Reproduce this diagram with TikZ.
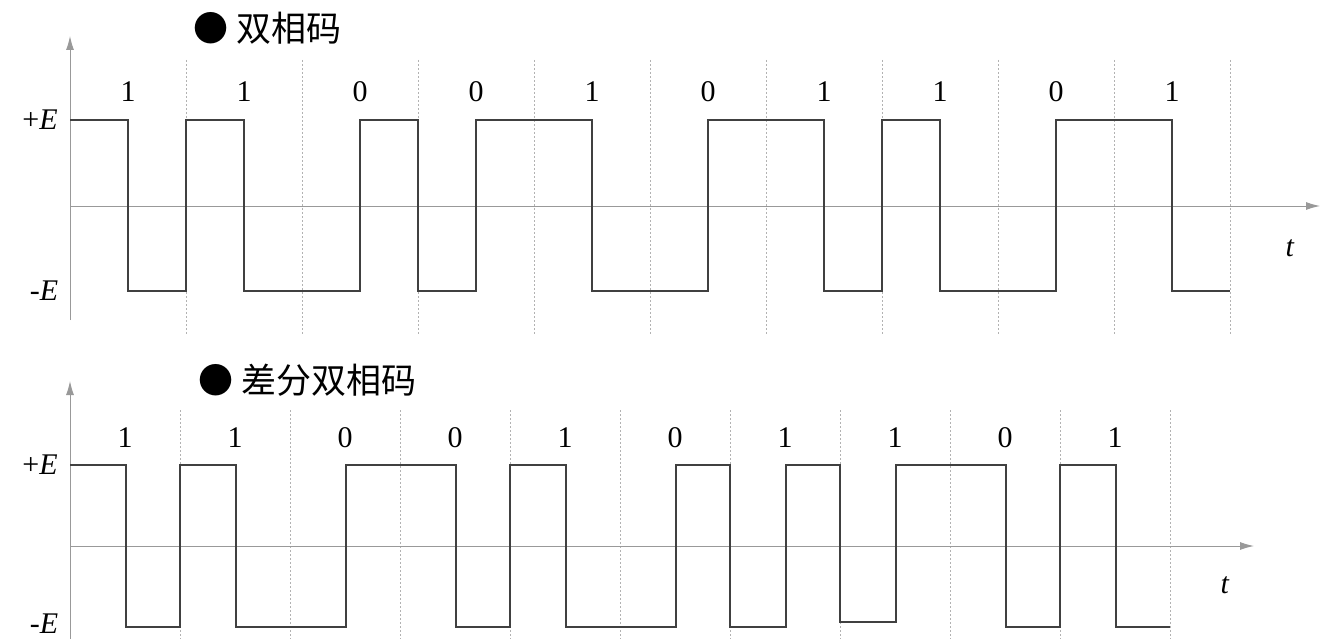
\documentclass[tikz,border=0pt]{standalone}
\usepackage{fontspec}
\setmainfont{Liberation Serif}
\newfontfamily\cjk{Noto Sans CJK SC}
\usetikzlibrary{arrows.meta}
\begin{document}
\begin{tikzpicture}[x=1pt,y=-1pt,
  axis/.style={draw=gray!80,line width=1pt,-{Latex[length=14pt,width=8pt]}},
  grid/.style={draw=gray!60,line width=0.6pt,dash pattern=on 2pt off 2pt},
  wave/.style={draw=black!75,line width=1.6pt},
  bit/.style={font=\fontsize{30}{32}\selectfont},
  lab/.style={font=\fontsize{30}{32}\selectfont},
  ttl/.style={font=\cjk\fontsize{35}{37}\selectfont,anchor=west}]
\useasboundingbox (0,0) rectangle (1340,639);
% ---------- top panel ----------
\foreach \i in {1,...,10} \draw[grid] (70+116*\i,60) -- (70+116*\i,335);
\coordinate (ya0) at (70,320); \coordinate (ya1) at (70,36);
\draw[axis] (ya0) -- (ya1);
\coordinate (xa0) at (70,206); \coordinate (xa1) at (1320,206);
\draw[axis] (xa0) -- (xa1);
\draw[wave] (70,120) -- (128,120) -- (128,291) -- (186,291) -- (186,120) -- (244,120) -- (244,291)
 -- (360,291) -- (360,120) -- (418,120) -- (418,291) -- (476,291) -- (476,120) -- (592,120) -- (592,291)
 -- (708,291) -- (708,120) -- (824,120) -- (824,291) -- (882,291) -- (882,120) -- (940,120) -- (940,291)
 -- (1056,291) -- (1056,120) -- (1172,120) -- (1172,291) -- (1230,291);
\foreach \b [count=\i from 0] in {1,1,0,0,1,0,1,1,0,1}
  \node[bit] (ta\i) at (128+116*\i,92) {\b};
\node[ttl] (t1) at (190,28) {● 双相码};
\node[lab] (pe1) at (40,120) {+\textit{E}};
\node[lab] (me1) at (44,291) {-\textit{E}};
\node[lab] (tt1) at (1290,248) {\textit{t}};
% ---------- bottom panel ----------
\foreach \i in {1,...,10} \draw[grid] (70+110*\i,410) -- (70+110*\i,639);
\coordinate (yb0) at (70,639); \coordinate (yb1) at (70,381);
\draw[axis] (yb0) -- (yb1);
\coordinate (xb0) at (70,546); \coordinate (xb1) at (1254,546);
\draw[axis] (xb0) -- (xb1);
\draw[wave] (70,465) -- (126,465) -- (126,627) -- (180,627) -- (180,465) -- (236,465) -- (236,627)
 -- (346,627) -- (346,465) -- (456,465) -- (456,627) -- (510,627) -- (510,465) -- (566,465) -- (566,627)
 -- (676,627) -- (676,465) -- (730,465) -- (730,627) -- (786,627) -- (786,465) -- (840,465) -- (840,622)
 -- (896,622) -- (896,465) -- (1006,465) -- (1006,627) -- (1060,627) -- (1060,465) -- (1116,465) -- (1116,627) -- (1170,627);
\foreach \b [count=\i from 0] in {1,1,0,0,1,0,1,1,0,1}
  \node[bit] (tb\i) at (125+110*\i,438) {\b};
\node[ttl] (t2) at (195,380) {● 差分双相码};
\node[lab] (pe2) at (40,465) {+\textit{E}};
\node[lab] (me2) at (44,624) {-\textit{E}};
\node[lab] (tt2) at (1225,585) {\textit{t}};
\end{tikzpicture}
\end{document}
